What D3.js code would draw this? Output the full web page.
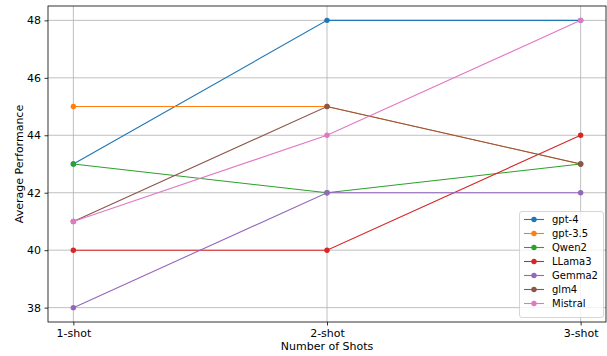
<!DOCTYPE html>
<html><head><meta charset="utf-8">
<script src="https://cdn.jsdelivr.net/npm/d3@7"></script>
<style>body{margin:0;background:#fff}svg{display:block;font-family:"DejaVu Sans",sans-serif}</style>
</head><body><svg id="c" width="607" height="356"></svg>
<script>
const categories = ["1-shot","2-shot","3-shot"];
const seriesNames = ["gpt-4","gpt-3.5","Qwen2","LLama3","Gemma2","glm4","Mistral"];
const gpt4 = [43,48,48];
const gpt35 = [45,45,43];
const qwen2 = [43,42,43];
const llama3 = [40,40,44];
const gemma2 = [38,42,42];
const glm4 = [41,45,43];
const mistral = [41,44,48];
const yTicks = [38,40,42,44,46,48];
const colors = ["#1f77b4","#ff7f0e","#2ca02c","#d62728","#9467bd","#8c564b","#e377c2"];
const values = [gpt4,gpt35,qwen2,llama3,gemma2,glm4,mistral];

const svg = d3.select("#c");
const L=48, R=606, T=6, B=322;
const xi = d3.scaleLinear().domain([-0.1,2.1]).range([L,R]);
const y = d3.scaleLinear().domain([37.5,48.5]).range([B,T]);

const g = svg.append("g");
g.selectAll(".gx").data([0,1,2]).join("line")
  .attr("x1",d=>xi(d)).attr("x2",d=>xi(d)).attr("y1",T).attr("y2",B)
  .attr("stroke","#b0b0b0").attr("stroke-width",0.8);
g.selectAll(".gy").data(yTicks).join("line")
  .attr("x1",L).attr("x2",R).attr("y1",d=>y(d)).attr("y2",d=>y(d))
  .attr("stroke","#b0b0b0").attr("stroke-width",0.8);

const xAxis = d3.axisBottom(xi).tickValues([0,1,2]).tickFormat(i=>categories[i]).tickSize(3.5).tickPadding(3.5);
const yAxis = d3.axisLeft(y).tickValues(yTicks).tickSize(3.5).tickPadding(3.5);
const ax = svg.append("g").attr("transform",`translate(0,${B})`).call(xAxis);
const ay = svg.append("g").attr("transform",`translate(${L},0)`).call(yAxis);
[ax,ay].forEach(a=>{a.select(".domain").remove();
  a.selectAll("text").attr("font-size",11).attr("fill","#000").attr("font-family","DejaVu Sans");
  a.selectAll("line").attr("stroke","#000").attr("stroke-width",0.8);});

const line = d3.line().x((d,i)=>xi(i)).y(d=>y(d));
values.forEach((vals,k)=>{
  svg.append("path").datum(vals).attr("d",line).attr("fill","none")
    .attr("stroke",colors[k]).attr("stroke-width",1.1);
  svg.selectAll(null).data(vals).join("circle")
    .attr("cx",(d,i)=>xi(i)).attr("cy",d=>y(d)).attr("r",2.7).attr("fill",colors[k]);
});

svg.append("rect").attr("x",L).attr("y",T).attr("width",R-L).attr("height",B-T)
  .attr("fill","none").attr("stroke","#000").attr("stroke-width",0.8);

svg.append("text").attr("x",(L+R)/2).attr("y",350).attr("text-anchor","middle")
  .attr("font-size",11).text("Number of Shots");
svg.append("text").attr("transform",`translate(23,${(T+B)/2}) rotate(-90)`).attr("text-anchor","middle")
  .attr("font-size",11).text("Average Performance");

const lg = svg.append("g");
lg.append("rect").attr("x",519.5).attr("y",211.5).attr("width",84).attr("height",106).attr("rx",2.5)
  .attr("fill","#fff").attr("fill-opacity",0.8).attr("stroke","#cccccc").attr("stroke-width",0.8);
seriesNames.forEach((n,k)=>{
  const yy = 219.5 + k*14;
  lg.append("line").attr("x1",524).attr("x2",544).attr("y1",yy).attr("y2",yy)
    .attr("stroke",colors[k]).attr("stroke-width",1.1);
  lg.append("circle").attr("cx",534).attr("cy",yy).attr("r",2.7).attr("fill",colors[k]);
  lg.append("text").attr("x",552).attr("y",yy+3.5).attr("font-size",10).text(n);
});
</script></body></html>
